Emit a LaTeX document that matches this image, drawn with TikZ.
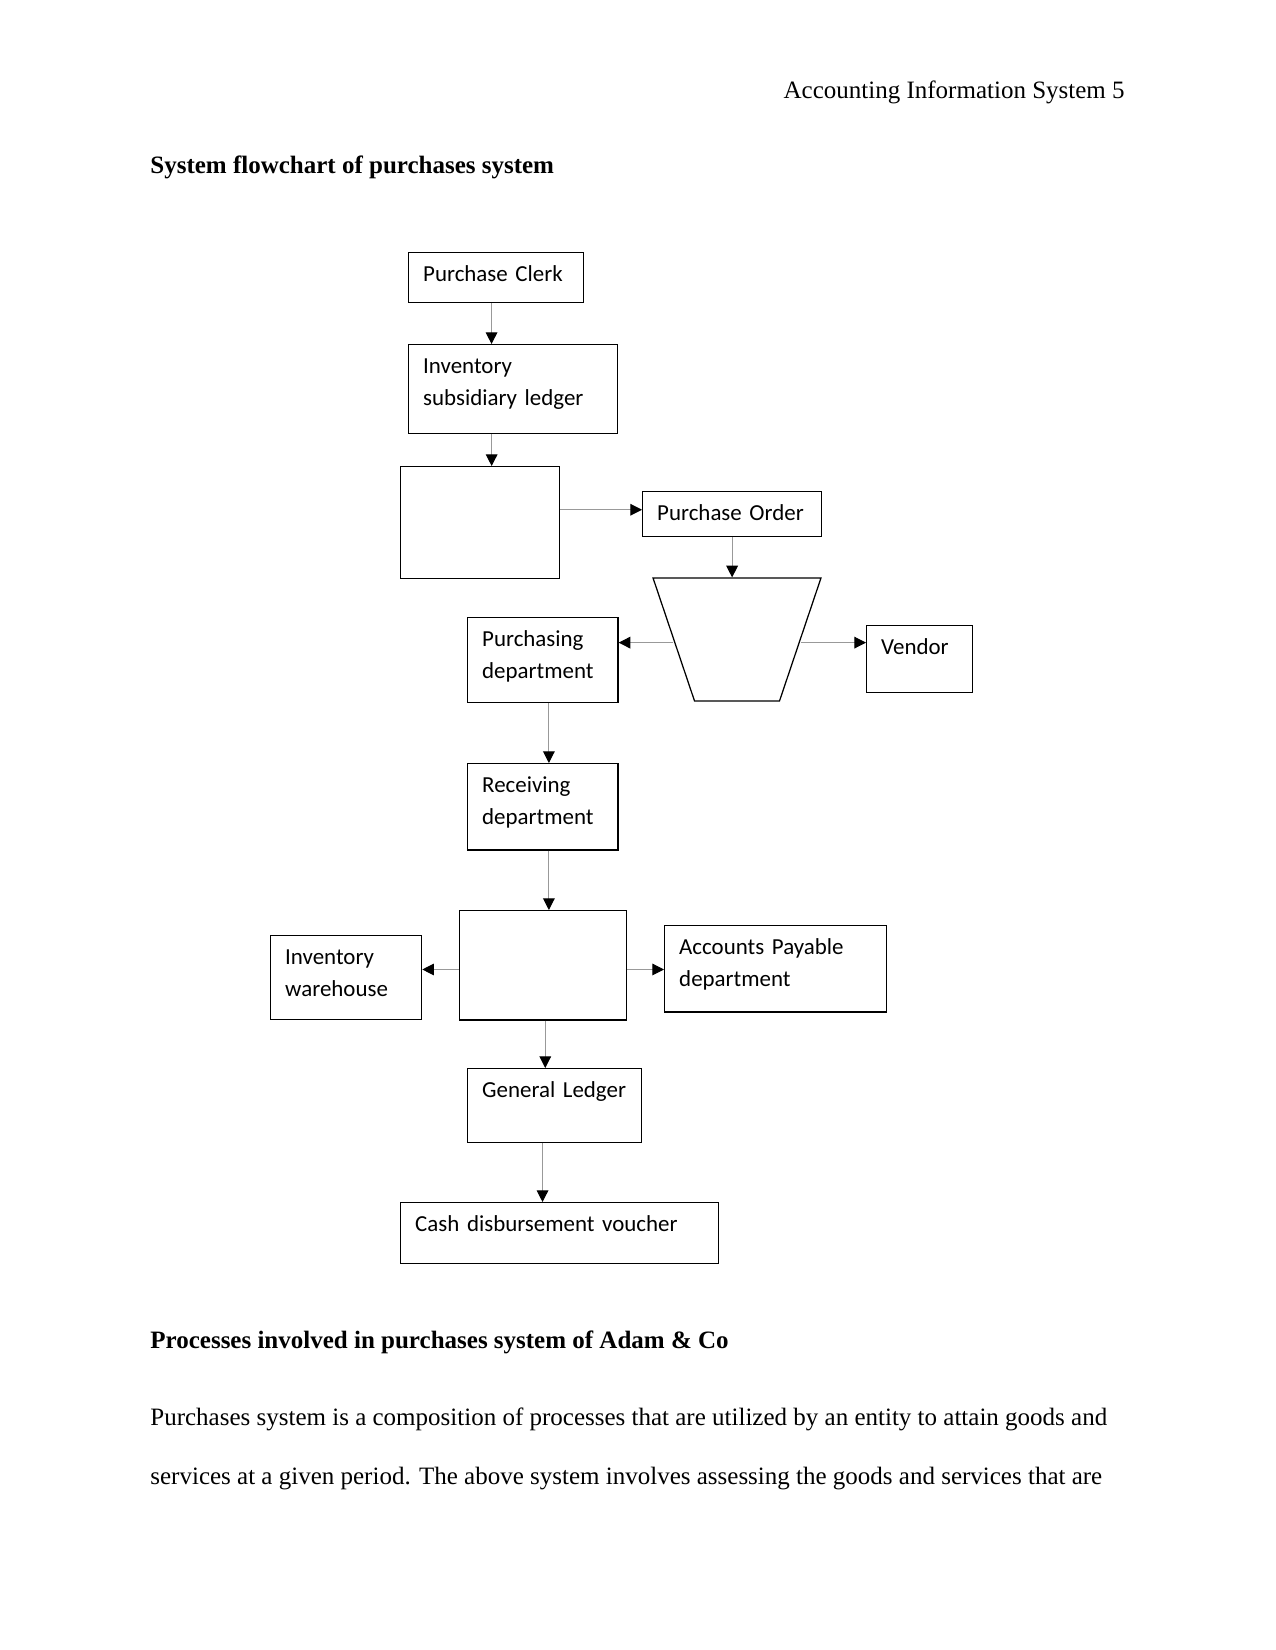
\documentclass[tikz,border=0pt]{standalone}
\usepackage{fontspec}
\setmainfont{Liberation Serif}
\newfontfamily\boxfont{Carlito}
\usetikzlibrary{arrows.meta,shapes.geometric}

\tikzset{
  pagetext/.style={inner sep=0pt, font=\fontsize{12}{14}\selectfont},
  box/.style={draw, line width=0.6pt, anchor=north west, align=left,
    font=\boxfont\fontsize{11}{15.5}\selectfont,
    inner xsep=7pt, inner ysep=0pt, text height=13.9pt},
  flow/.style={draw=black!40, line width=0.5pt,
    -{Triangle[length=5.6pt,width=5.6pt,color=black]}}
}

\begin{document}
\begin{tikzpicture}[x=0.48pt,y=-0.48pt]
     \useasboundingbox (0,0) rectangle (1275,1650);
     % page text
     \node[pagetext, anchor=base east] (header) at (1125,98.5) {Accounting Information System 5};
     \node[pagetext, anchor=base west, font=\fontsize{12}{14}\selectfont\bfseries] (title) at (150,174) {System flowchart of purchases system};
     \node[pagetext, anchor=base west, font=\fontsize{12}{14}\selectfont\bfseries] (section) at (150,1348) {Processes involved in purchases system of Adam \& Co};
     \node[pagetext, anchor=base west] (lineone) at (150,1425) {Purchases system is a composition of processes that are utilized by an entity to attain goods and};
     \node[pagetext, anchor=base west] (linetwo) at (150,1484.5) {services at a given period. The above system involves assessing the goods and services that are};

     % flowchart boxes
     \node[box, text width=70pt, text depth=10.1pt] (clerk) at (408,252) {Purchase~Clerk};
     \node[box, text width=86.3pt, text depth=28.8pt] (ledger) at (408,344) {Inventory\\subsidiary~ledger};
     \node[box, text width=62.3pt, text depth=39.9pt] (order) at (400,466) {};
     \node[box, text width=71.9pt, text depth=7.7pt] (po) at (642,491) {Purchase~Order};
     \node[trapezium, draw, line width=0.6pt, trapezium left angle=116, trapezium right angle=116,
       trapezium stretches=true, minimum width=80.6pt, minimum height=59pt, inner sep=2pt] (manual) at (737,639.5) {};
     \node[box, text width=58.2pt, text depth=27.1pt] (purch) at (467,616.5) {Purchasing\\department};
     \node[box, text width=36.9pt, text depth=18.3pt] (vendor) at (866,625) {Vendor};
     \node[box, text width=58.2pt, text depth=27.5pt] (recv) at (467,763) {Receiving\\department};
     \node[box, text width=66.2pt, text depth=38.6pt] (report) at (459,910) {};
     \node[box, text width=58.5pt, text depth=26.4pt] (house) at (270,935) {Inventory\\warehouse};
     \node[box, text width=92.6pt, text depth=27.5pt] (payable) at (664,925) {Accounts~Payable\\department};
     \node[box, text width=69.5pt, text depth=21.4pt] (general) at (467,1068) {General~Ledger};
     \node[box, text width=138.4pt, text depth=15.4pt] (cash) at (400,1202) {Cash disbursement voucher};

     % connectors
     \draw[flow] ([xshift=-2.2pt]clerk.south) -- ([xshift=-2.2pt]clerk.south |- ledger.north);
     \draw[flow] ([xshift=-10.3pt]ledger.south) -- ([xshift=-10.3pt]ledger.south |- order.north);
     \draw[flow] ([yshift=6.2pt]order.east) -- ([yshift=6.2pt]order.east -| po.west);
     \draw[flow] (po.south) -- (po.south |- manual.north);
     \draw[flow] ([yshift=-1.5pt]manual.west) -- ([yshift=-1.5pt]manual.west -| purch.east);
     \draw[flow] ([yshift=-1.5pt]manual.east) -- ([yshift=-1.5pt]manual.east -| vendor.west);
     \draw[flow] ([xshift=2.9pt]purch.south) -- ([xshift=2.9pt]purch.south |- recv.north);
     \draw[flow] ([xshift=2.9pt]recv.south) -- ([xshift=2.9pt]recv.south |- report.north);
     \draw[flow] ([yshift=-2pt]report.west) -- ([yshift=-2pt]report.west -| house.east);
     \draw[flow] ([yshift=-2pt]report.east) -- ([yshift=-2pt]report.east -| payable.west);
     \draw[flow] ([xshift=1pt]report.south) -- ([xshift=1pt]report.south |- general.north);
     \draw[flow] ([xshift=-5.8pt]general.south) -- ([xshift=-5.8pt]general.south |- cash.north);

\end{tikzpicture}
\end{document}
